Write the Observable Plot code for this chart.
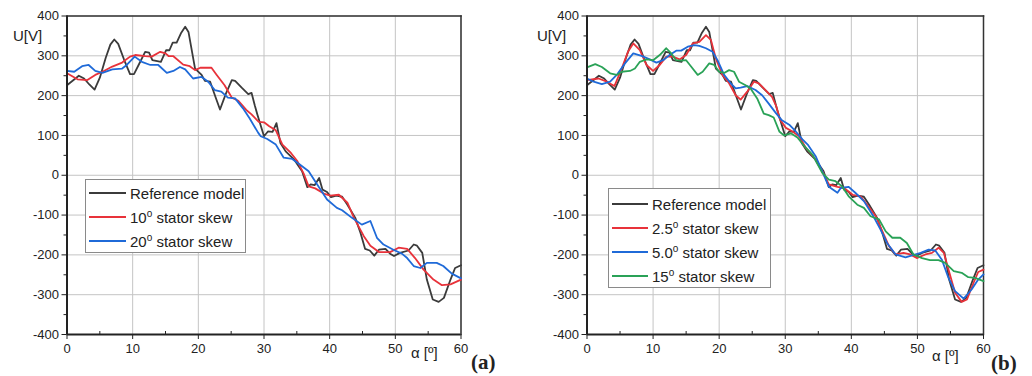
<!DOCTYPE html>
<html><head><meta charset="utf-8">
<script src="https://cdn.jsdelivr.net/npm/d3@7"></script>
<script src="https://cdn.jsdelivr.net/npm/@observablehq/plot@0.6"></script>
<style>
html,body{margin:0;padding:0;background:#fff;}
#wrap{position:relative;width:1032px;height:376px;overflow:hidden;font-family:"Liberation Sans",Arial,sans-serif;color:#222;}
.pan{position:absolute;top:0;}
.lab{position:absolute;font-size:15px;line-height:16px;white-space:nowrap;}
.tag{position:absolute;font-family:"Liberation Serif","Times New Roman",serif;font-weight:bold;font-size:21px;line-height:22px;}
.leg{position:absolute;background:#fff;border:1px solid #8a8a8a;box-sizing:border-box;font-size:15px;}
.row{height:24px;display:flex;align-items:center;white-space:nowrap;}
.sw{display:inline-block;height:2px;margin-right:4px;}
sup{font-size:10px;vertical-align:6px;line-height:0;}
</style></head><body>
<div id="wrap"></div>
<script>
// α [º] vs U[V]
const refModel = [[0,226],[1.8,250],[2.6,243],[3.4,228],[4.2,215],[5.0,245],[5.9,295],[6.6,328],[7.2,341],[7.8,330],[8.7,290],[9.6,254],[10.2,254],[11.0,280],[11.9,310],[12.5,308],[13.0,289],[14.3,285],[15.1,314],[15.6,314],[16.1,333],[16.7,333],[17.4,358],[18.0,373],[18.5,360],[19.5,268],[20.5,252],[21.0,237],[21.8,235],[22.6,197],[23.3,165],[24.2,205],[25.1,239],[25.6,237],[26.6,220],[27.6,204],[28.1,207],[28.6,175],[29.0,152],[30.0,98],[30.6,110],[31.3,109],[31.9,131],[32.5,81],[33.3,60],[34.6,39],[35.8,10],[36.6,-30],[37.1,-23],[37.7,-25],[38.4,-7],[38.9,-36],[39.6,-42],[40.2,-55],[41.0,-51],[41.9,-54],[42.7,-74],[43.9,-107],[44.7,-145],[45.4,-185],[46.1,-189],[46.8,-202],[47.5,-187],[48.5,-185],[49.2,-197],[49.8,-203],[50.7,-195],[52.0,-189],[52.8,-174],[53.3,-177],[54.1,-195],[54.8,-262],[55.7,-312],[56.6,-318],[57.4,-308],[58.4,-262],[59.1,-233],[60,-226]];
const skew10 = [[0,256],[1.6,241],[3.1,239],[4.3,252],[5.4,260],[6.9,273],[8.4,283],[9.6,298],[10.4,302],[11.9,299],[12.9,298],[14.2,310],[15.0,306],[15.5,299],[16.2,299],[17.7,278],[18.7,274],[19.5,264],[20.3,270],[22.0,270],[22.8,252],[24.0,226],[25.1,195],[26.1,187],[27.3,164],[28.1,153],[29.2,134],[30.0,133],[30.8,123],[31.8,113],[32.8,77],[34.1,56],[35.1,35],[36.1,2],[36.8,-28],[37.8,-33],[39.1,-46],[40.1,-51],[41.4,-49],[42.7,-69],[43.7,-107],[45.2,-153],[46.2,-177],[47.5,-193],[49.2,-193],[50.5,-182],[51.8,-185],[53.0,-208],[54.3,-237],[55.8,-262],[57.1,-276],[58.4,-274],[60,-262]];
const skew20 = [[0,262],[1.1,260],[2.3,274],[3.3,277],[4.3,262],[5.4,257],[6.9,266],[8.4,268],[9.1,277],[10.3,298],[11.4,285],[12.7,277],[13.9,277],[15.2,257],[16.2,262],[17.2,272],[18.0,266],[19.2,243],[20.5,247],[21.5,235],[22.5,214],[23.5,210],[24.5,195],[25.6,193],[26.8,168],[27.8,143],[29.1,107],[29.5,98],[30.5,91],[31.8,77],[33.0,44],[34.3,41],[35.3,29],[36.8,10],[38.1,-23],[39.6,-61],[41.1,-82],[41.9,-88],[43.4,-107],[44.9,-124],[46.2,-115],[47.2,-157],[48.2,-174],[49.7,-187],[51.0,-197],[51.8,-208],[52.8,-228],[53.8,-233],[54.8,-220],[56.3,-220],[57.3,-228],[58.6,-247],[60,-259]];
const skew2_5 = [[0,239],[1.75,243],[3.0,235],[4.15,224],[5.25,268],[6.2,310],[7.0,331],[8.0,314],[9.0,277],[10.0,262],[11.0,277],[12.0,298],[13.0,298],[14.0,291],[15.0,302],[16.0,331],[17.0,335],[18.0,352],[18.75,340],[19.5,293],[20.5,252],[21.5,231],[22.5,201],[23.25,190],[24.25,210],[25.25,235],[26.0,231],[27.0,214],[28.0,197],[28.6,175],[29.2,140],[30.1,119],[31.1,110],[32.1,98],[33.1,69],[34.4,44],[35.6,10],[36.6,-23],[37.9,-29],[38.9,-32],[40.2,-49],[41.4,-53],[42.4,-74],[43.7,-103],[44.7,-141],[45.7,-178],[46.7,-199],[47.9,-195],[48.9,-199],[49.9,-208],[51.2,-199],[52.2,-195],[53.2,-182],[54.0,-195],[54.7,-237],[55.7,-295],[56.7,-318],[57.5,-312],[58.5,-270],[59.2,-243],[60,-237]];
const skew5_0 = [[0,243],[1.0,235],[2.25,229],[3.5,235],[4.5,252],[5.75,281],[7.0,306],[8.25,300],[9.5,291],[10.5,283],[11.5,289],[12.5,302],[13.5,313],[14.25,313],[15.25,323],[16.25,327],[17.0,325],[18.0,319],[19.0,310],[19.75,289],[20.75,252],[21.75,231],[22.5,218],[23.25,220],[24.25,224],[25.5,214],[26.5,201],[27.5,180],[28.5,158],[29.5,138],[30.6,127],[31.6,110],[32.6,90],[33.4,77],[34.6,48],[35.6,10],[36.6,-29],[37.9,-44],[38.4,-32],[39.6,-29],[40.6,-44],[41.9,-65],[43.2,-99],[44.4,-136],[45.4,-170],[46.7,-199],[48.2,-206],[49.2,-201],[50.5,-195],[51.7,-187],[52.7,-189],[53.7,-212],[54.7,-258],[55.7,-291],[57.0,-310],[58.2,-287],[59.2,-262],[60,-249]];
const skew15 = [[0,271],[1.25,279],[2.25,272],[3.5,256],[4.5,252],[5.25,260],[6.5,262],[7.25,268],[8.0,285],[9.0,291],[10.0,289],[11.0,302],[12.0,319],[12.75,306],[13.5,289],[14.25,288],[15.0,289],[15.75,273],[16.75,252],[17.5,260],[18.5,281],[19.25,277],[20.0,260],[20.75,257],[21.5,264],[22.25,260],[23.0,235],[24.0,226],[24.75,218],[25.75,193],[26.75,155],[27.5,151],[28.25,145],[29.1,110],[29.8,100],[30.9,105],[31.9,94],[32.9,73],[34.1,52],[35.6,6],[36.6,-11],[37.6,-15],[38.6,-28],[39.6,-53],[40.9,-74],[41.9,-82],[42.9,-103],[44.2,-111],[45.2,-141],[46.2,-157],[47.4,-157],[48.4,-170],[49.4,-199],[50.7,-208],[51.9,-213],[53.2,-213],[54.2,-220],[55.5,-241],[56.7,-245],[57.7,-256],[58.7,-258],[60,-266]];

const xTicks = [0,10,20,30,40,50,60];
const xMinor = [5,15,25,35,45,55];
const yTicks = [400,300,200,100,0,-100,-200,-300,-400];
const yMinor = [350,250,150,50,-50,-150,-250,-350];

const C = {ref:"#3b3b3b", red:"#e8323a", blue:"#1f6ad8", green:"#2aa257"};

const panelA = [
  {name:"Reference model", data:refModel, color:C.ref, deg:null},
  {name:"stator skew", data:skew10, color:C.red, deg:"10"},
  {name:"stator skew", data:skew20, color:C.blue, deg:"20"}
];
const panelB = [
  {name:"Reference model", data:refModel, color:C.ref, deg:null},
  {name:"stator skew", data:skew2_5, color:C.red, deg:"2.5"},
  {name:"stator skew", data:skew5_0, color:C.blue, deg:"5.0"},
  {name:"stator skew", data:skew15, color:C.green, deg:"15"}
];

function makePanel(series, ml, mr) {
  const marks = [
    Plot.gridX(xTicks, {stroke:"#c4c4c4", strokeOpacity:1, strokeWidth:1}),
    Plot.gridY(yTicks, {stroke:"#c4c4c4", strokeOpacity:1, strokeWidth:1}),
    Plot.frame({anchor:"top", stroke:"#333", strokeWidth:1.5}),
    Plot.frame({anchor:"right", stroke:"#333", strokeWidth:1.5}),
  ];
  for (const s of series) {
    marks.push(Plot.line(s.data, {x: d => d[0], y: d => d[1], stroke: s.color, strokeWidth: 1.8, strokeLinejoin:"round"}));
  }
  marks.push(
    Plot.ruleX([0], {stroke:"#222", strokeWidth:2}),
    Plot.ruleY([-400], {stroke:"#222", strokeWidth:2}),
    Plot.axisX(xTicks, {tickSize:5, tickPadding:4, fontSize:13, label:null, stroke:"#222", tickFormat:d=>String(d)}),
    Plot.axisX(xMinor, {tickSize:-3, tickFormat:()=>"", label:null, stroke:"#222"}),
    Plot.axisY(yTicks, {tickSize:5, tickPadding:3, fontSize:13, label:null, stroke:"#222", tickFormat:d=>String(d)}),
    Plot.axisY(yMinor, {tickSize:3, tickFormat:()=>"", label:null, stroke:"#222"})
  );
  return Plot.plot({
    width: 516, height: 376,
    marginTop: 15.5, marginBottom: 42, marginLeft: ml, marginRight: mr,
    x: {domain:[0,60]}, y: {domain:[-400,400]},
    style: {fontFamily:'"Liberation Sans", Arial, sans-serif', color:"#222", background:"transparent", overflow:"visible"},
    marks
  });
}

function legend(series, left, top, width, padTop, lineW) {
  const box = document.createElement("div");
  box.className = "leg";
  box.style.left = left+"px"; box.style.top = top+"px"; box.style.width = width+"px";
  box.style.paddingTop = padTop+"px"; box.style.paddingLeft = "3px";
  box.style.height = (padTop + 24*series.length + 1) + "px";
  for (const s of series) {
    const r = document.createElement("div"); r.className = "row";
    const sw = document.createElement("span"); sw.className = "sw";
    sw.style.width = lineW+"px"; sw.style.background = s.color;
    const t = document.createElement("span");
    t.innerHTML = s.deg ? `${s.deg}<sup>o</sup> ${s.name}` : s.name;
    r.appendChild(sw); r.appendChild(t); box.appendChild(r);
  }
  return box;
}

function addText(cls, txt, left, top) {
  const d = document.createElement("div"); d.className = cls; d.textContent = txt;
  d.style.left = left+"px"; d.style.top = top+"px"; return d;
}

const wrap = document.getElementById("wrap");
const pA = document.createElement("div"); pA.className="pan"; pA.style.left="0px";
pA.appendChild(makePanel(panelA, 66.5, 55.5));
const pB = document.createElement("div"); pB.className="pan"; pB.style.left="516px";
pB.appendChild(makePanel(panelB, 70.5, 49));
wrap.appendChild(pA); wrap.appendChild(pB);
wrap.appendChild(addText("lab", "U[V]", 13, 28));
wrap.appendChild(addText("lab", "U[V]", 537, 28));
wrap.appendChild(addText("lab", "α [º]", 411, 345));
wrap.appendChild(addText("lab", "α [º]", 932, 348));
wrap.appendChild(addText("tag", "(a)", 471, 351));
wrap.appendChild(addText("tag", "(b)", 991, 352));
wrap.appendChild(legend(panelA, 85, 179, 161, 1, 37));
wrap.appendChild(legend(panelB, 608, 188, 163, 3, 36));
</script>
</body></html>
